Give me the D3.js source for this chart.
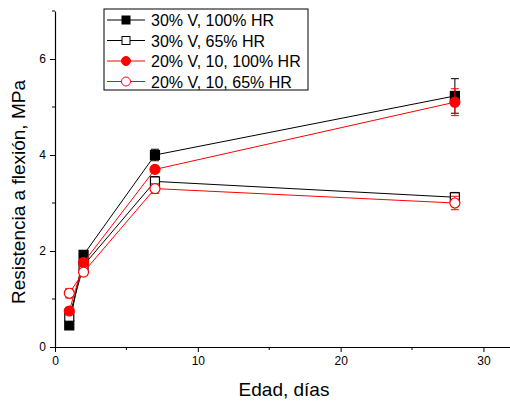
<!DOCTYPE html>
<html>
<head>
<meta charset="utf-8">
<script src="https://cdn.jsdelivr.net/npm/d3@7"></script>
<style>
	body { margin: 0; background: #fff; }
	text { font-family: Arial, "Liberation Sans", sans-serif; fill: #000; }
</style>
</head>
<body>
<script>
//data
var edad = [1, 2, 7, 28];
var names = ["30% V, 100% HR", "30% V, 65% HR", "20% V, 10, 100% HR", "20% V, 10, 65% HR"];
var v30_100 = [0.45, 1.92, 4.0, 5.23];
var v30_65 = [0.63, 1.70, 3.45, 3.12];
var v20_100 = [0.75, 1.76, 3.70, 5.10];
var v20_65 = [1.12, 1.56, 3.30, 3.00];
var e30_100 = [0.04, 0.08, 0.12, 0.36];
var e30_65 = [0.04, 0.10, 0.10, 0.10];
var e20_100 = [0.04, 0.08, 0.04, 0.28];
var e20_65 = [0.10, 0.06, 0.10, 0.14];
var xTicks = [0, 10, 20, 30];
var yTicks = [0, 2, 4, 6];

window.onload = setChart();

function setChart(){
	var width = 510,
		height = 401;

	var svg = d3.select("body")
		.append("svg")
		.attr("width", width)
		.attr("height", height);

	var x = d3.scaleLinear().domain([0, 32]).range([55, 512]);
	var y = d3.scaleLinear().domain([0, 7]).range([347, 11]);

	var series = [
		{name: names[0], vals: v30_100, err: e30_100, color: "#000", shape: "square", fill: true},
		{name: names[1], vals: v30_65, err: e30_65, color: "#000", shape: "square", fill: false},
		{name: names[2], vals: v20_100, err: e20_100, color: "#ff0000", shape: "circle", fill: true},
		{name: names[3], vals: v20_65, err: e20_65, color: "#ff0000", shape: "circle", fill: false}
	];

	//axes
	var xAxis = svg.append("g")
		.attr("transform", "translate(0," + y(0) + ")")
		.call(d3.axisBottom(x).tickValues(xTicks).tickFormat(d3.format("d")).tickSize(5).tickSizeOuter(0).tickPadding(4));
	xAxis.append("g").selectAll("line")
		.data([5, 15, 25])
		.enter().append("line")
		.attr("x1", function(d){ return x(d); })
		.attr("x2", function(d){ return x(d); })
		.attr("y2", 3)
		.attr("stroke", "#000");

	var yAxis = svg.append("g")
		.attr("transform", "translate(" + x(0) + ",0)")
		.call(d3.axisLeft(y).tickValues(yTicks).tickFormat(d3.format("d")).tickSize(5).tickSizeOuter(0).tickPadding(4));
	yAxis.append("g").selectAll("line")
		.data([1, 3, 5, 7])
		.enter().append("line")
		.attr("y1", function(d){ return y(d); })
		.attr("y2", function(d){ return y(d); })
		.attr("x2", -3)
		.attr("stroke", "#000");

	svg.selectAll(".domain").attr("stroke", "#000").attr("stroke-width", 1.2);
	svg.selectAll(".tick line").attr("stroke", "#000");
	svg.selectAll(".tick text")
		.style("font-size", "12px")
		.style("font-family", "Arial, 'Liberation Sans', sans-serif")
		.attr("fill", "#222");

	//axis titles
	svg.append("text")
		.attr("x", 284)
		.attr("y", 396)
		.attr("text-anchor", "middle")
		.style("font-size", "19px")
		.text("Edad, días");

	svg.append("text")
		.attr("transform", "translate(25,192) rotate(-90)")
		.attr("text-anchor", "middle")
		.style("font-size", "19px")
		.text("Resistencia a flexión, MPa");

	var line = d3.line()
		.x(function(d, i){ return x(edad[i]); })
		.y(function(d){ return y(d); });

	function marker(g, s, cx, cy){
		if (s.shape == "square"){
			g.append("rect")
				.attr("x", cx - 4.5)
				.attr("y", cy - 4.5)
				.attr("width", 9)
				.attr("height", 9)
				.attr("fill", s.fill ? s.color : "#fff")
				.attr("stroke", s.color)
				.attr("stroke-width", 1.2);
		} else {
			g.append("circle")
				.attr("cx", cx)
				.attr("cy", cy)
				.attr("r", 5)
				.attr("fill", s.fill ? s.color : "#fff")
				.attr("stroke", s.color)
				.attr("stroke-width", 1.2);
		};
	};

	series.forEach(function(s){
		var g = svg.append("g");

		g.append("path")
			.datum(s.vals)
			.attr("d", line)
			.attr("fill", "none")
			.attr("stroke", s.color)
			.attr("stroke-width", 1);

		//error bars
		s.vals.forEach(function(v, i){
			var cx = x(edad[i]);
			var top = y(v + s.err[i]),
				bot = y(v - s.err[i]);
			g.append("line")
				.attr("x1", cx).attr("x2", cx)
				.attr("y1", top).attr("y2", bot)
				.attr("stroke", s.color);
			[top, bot].forEach(function(yy){
				g.append("line")
					.attr("x1", cx - 4).attr("x2", cx + 4)
					.attr("y1", yy).attr("y2", yy)
					.attr("stroke", s.color);
			});
		});

		s.vals.forEach(function(v, i){
			marker(g, s, x(edad[i]), y(v));
		});
	});

	//legend
	var legend = svg.append("g");
	legend.append("rect")
		.attr("x", 104)
		.attr("y", 9)
		.attr("width", 204)
		.attr("height", 81)
		.attr("fill", "#fff")
		.attr("stroke", "#000")
		.attr("stroke-width", 1);

	series.forEach(function(s, i){
		var ly = 20 + i * 20.5;
		legend.append("line")
			.attr("x1", 107).attr("x2", 145)
			.attr("y1", ly).attr("y2", ly)
			.attr("stroke", s.color);
		if (s.shape == "square"){
			legend.append("rect")
				.attr("x", 122).attr("y", ly - 4)
				.attr("width", 8).attr("height", 8)
				.attr("fill", s.fill ? s.color : "#fff")
				.attr("stroke", s.color);
		} else {
			legend.append("circle")
				.attr("cx", 126).attr("cy", ly)
				.attr("r", 4.5)
				.attr("fill", s.fill ? s.color : "#fff")
				.attr("stroke", s.color);
		};
		legend.append("text")
			.attr("x", 151)
			.attr("y", ly + 6)
			.style("font-size", "16px")
			.text(s.name);
	});
};
</script>
</body>
</html>
